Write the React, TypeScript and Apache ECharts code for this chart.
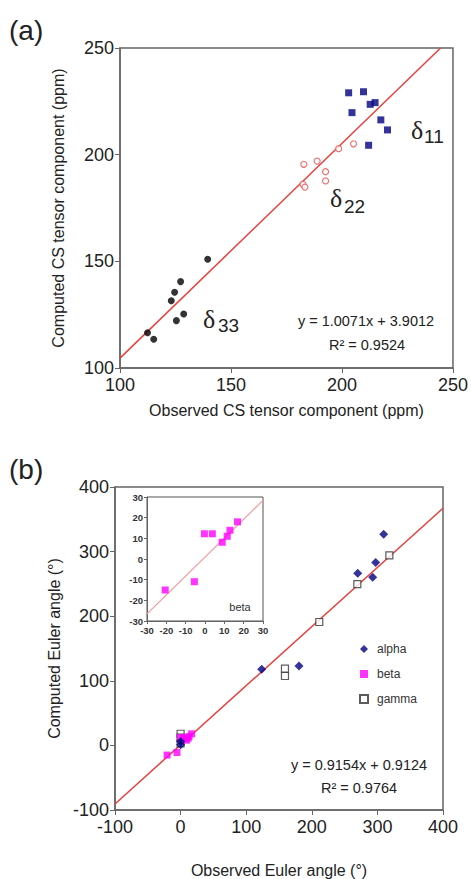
import React, { useEffect, useRef } from "react";
import * as echarts from "echarts";

// Panel (a): CS tensor components (ppm)
const d11X = [203, 209.7, 204.5, 212.7, 214.9, 217.5, 220.5, 212];
const d11Y = [229, 229.5, 219.7, 223.6, 224.4, 216.3, 211.6, 204.4];
const d22X = [182.8, 188.8, 192.6, 192.6, 198.5, 205.2, 182.4, 183.3];
const d22Y = [195.5, 197, 192, 187.7, 202.8, 205.1, 186.1, 184.8];
const d33X = [112.4, 115.2, 123.1, 124.6, 127.3, 125.4, 128.7, 139.5];
const d33Y = [116.5, 113.5, 131.5, 135.5, 140.5, 122.2, 125.3, 151];
const fitA = { slope: 1.0071, intercept: 3.9012, x0: 100, x1: 244.4 };

// Panel (b): Euler angles (degrees)
const alphaX = [309.6, 297.4, 270, 292.8, 123.6, 180.5, 0, 0];
const alphaY = [326.8, 283, 266.4, 260.2, 117.8, 122.9, 1, 6];
const betaX = [-20.6, -5.5, -0.3, 3.8, 8.9, 11.5, 12.9, 16.8];
const betaY = [-15, -11, 12.2, 12.2, 8.1, 11, 13.9, 18];
const gammaX = [318.2, 269.4, 211.4, 159.1, 159.1, 0, 0, 0];
const gammaY = [294.3, 249.8, 191, 118.9, 107.4, 18, 12, 3];
const fitB = { slope: 0.9154, intercept: 0.9124, x0: -100, x1: 400 };
const fitInset = { slope: 0.9154, intercept: 0.9124, x0: -30, x1: 30 };

const zip = (xs: number[], ys: number[]) => xs.map((x, i) => [x, ys[i]]);
const fitLine = (f: { slope: number; intercept: number; x0: number; x1: number }) => [
  [f.x0, f.slope * f.x0 + f.intercept],
  [f.x1, f.slope * f.x1 + f.intercept],
];

const FONT = "Liberation Sans, Arial, sans-serif";
const SERIF = "Liberation Serif, Times New Roman, serif";
const AXIS_COLOR = "#666";
const LINE_RED = "#e8413c";

function axis(grid: number, min: number, max: number, interval: number, name: string, nameGap: number, isY: boolean, small = false) {
  return {
    type: "value",
    gridIndex: grid,
    min,
    max,
    interval,
    name,
    nameLocation: "middle",
    nameGap,
    nameTextStyle: { fontSize: 16, color: "#222", fontFamily: FONT },
    axisLine: { show: true, onZero: false, lineStyle: { color: AXIS_COLOR, width: small ? 1 : 1.5 } },
    axisTick: { show: true, inside: false, length: small ? 3 : 5, lineStyle: { color: AXIS_COLOR } },
    axisLabel: {
      fontSize: small ? 9.5 : 18,
      fontWeight: small ? "bold" : "normal",
      color: small ? "#333" : "#222",
      fontFamily: FONT,
      margin: small ? 4 : (isY ? 6 : 8),
    },
    splitLine: { show: false },
    axisPointer: { show: false },
  };
}

export default function App() {
  const ref = useRef<HTMLDivElement>(null);
  useEffect(() => {
    if (!ref.current) return;
    const chart = echarts.init(ref.current, undefined, { renderer: "svg" });
    const subText = (x: number, y: number, main: string, sub: string, dx: number, dy: number) => [
      {
        type: "text",
        x,
        y,
        style: { text: main, fontSize: 26, fontFamily: SERIF, fill: "#222", textAlign: "left", textVerticalAlign: "middle" },
      },
      {
        type: "text",
        x: x + dx,
        y: y + dy,
        style: { text: sub, fontSize: 19, fontFamily: FONT, fill: "#222", textAlign: "left", textVerticalAlign: "middle" },
      },
    ];
    const centerText = (x: number, y: number, text: string, size: number) => ({
      type: "text",
      x,
      y,
      style: { text, fontSize: size, fontFamily: FONT, fill: "#222", textAlign: "center", textVerticalAlign: "middle" },
    });
    const option: any = {
      animation: false,
      backgroundColor: "#fff",
      grid: [
        { left: 120, top: 48, width: 335, height: 320, show: true, borderColor: AXIS_COLOR, borderWidth: 1.5, backgroundColor: "#fff" },
        { left: 115, top: 487, width: 328, height: 323, show: true, borderColor: AXIS_COLOR, borderWidth: 1.5, backgroundColor: "#fff" },
        { left: 147, top: 497, width: 116, height: 124, show: true, borderColor: "#555", borderWidth: 1, backgroundColor: "#fff", z: 3 },
      ],
      xAxis: [
        axis(0, 100, 250, 50, "Observed CS tensor component (ppm)", 34, false),
        axis(1, -100, 400, 100, "Observed Euler angle (°)", 52, false),
        { ...axis(2, -30, 30, 10, "", 0, false, true), z: 4 },
      ],
      yAxis: [
        axis(0, 100, 250, 50, "Computed CS tensor component (ppm)", 54, true),
        axis(1, -100, 400, 100, "Computed Euler angle (°)", 52, true),
        { ...axis(2, -30, 30, 10, "", 0, true, true), z: 4 },
      ],
      legend: {
        data: ["alpha", "beta", "gamma"],
        orient: "vertical",
        left: 354,
        top: 638,
        itemWidth: 8,
        itemHeight: 8,
        itemGap: 13,
        textStyle: { fontSize: 12, color: "#333", fontFamily: FONT, padding: [0, 0, 0, 4] },
      },
      series: [
        {
          type: "line",
          data: fitLine(fitA),
          xAxisIndex: 0,
          yAxisIndex: 0,
          symbol: "none",
          lineStyle: { color: LINE_RED, width: 1.5 },
          z: 1,
        },
        {
          name: "δ11",
          type: "scatter",
          data: zip(d11X, d11Y),
          xAxisIndex: 0,
          yAxisIndex: 0,
          symbol: "rect",
          symbolSize: 7,
          itemStyle: { color: "#000080" },
        },
        {
          name: "δ22",
          type: "scatter",
          data: zip(d22X, d22Y),
          xAxisIndex: 0,
          yAxisIndex: 0,
          symbol: "circle",
          symbolSize: 6,
          itemStyle: { color: "#fff", borderColor: "#e85050", borderWidth: 1.2 },
        },
        {
          name: "δ33",
          type: "scatter",
          data: zip(d33X, d33Y),
          xAxisIndex: 0,
          yAxisIndex: 0,
          symbol: "circle",
          symbolSize: 7,
          itemStyle: { color: "#000" },
        },
        {
          type: "line",
          data: fitLine(fitB),
          xAxisIndex: 1,
          yAxisIndex: 1,
          symbol: "none",
          lineStyle: { color: LINE_RED, width: 1.5 },
          z: 1,
        },
        {
          name: "gamma",
          type: "scatter",
          data: zip(gammaX, gammaY),
          xAxisIndex: 1,
          yAxisIndex: 1,
          symbol: "rect",
          symbolSize: 7,
          itemStyle: { color: "#fff", borderColor: "#333", borderWidth: 1.2 },
        },
        {
          name: "beta",
          type: "scatter",
          data: zip(betaX, betaY),
          xAxisIndex: 1,
          yAxisIndex: 1,
          symbol: "rect",
          symbolSize: 7,
          itemStyle: { color: "#ff00ff" },
        },
        {
          name: "alpha",
          type: "scatter",
          data: zip(alphaX, alphaY),
          xAxisIndex: 1,
          yAxisIndex: 1,
          symbol: "diamond",
          symbolSize: 9,
          itemStyle: { color: "#000080" },
        },
        {
          name: "inset fit",
          type: "line",
          data: fitLine(fitInset),
          xAxisIndex: 2,
          yAxisIndex: 2,
          symbol: "none",
          color: "#f29a9a",
          lineStyle: { color: "#f29a9a", width: 1.2 },
          z: 4,
        },
        {
          name: "beta inset",
          type: "scatter",
          data: zip(betaX, betaY),
          xAxisIndex: 2,
          yAxisIndex: 2,
          symbol: "rect",
          symbolSize: 7,
          itemStyle: { color: "#ff00ff" },
          z: 5,
        },
      ],
      graphic: [
        { type: "text", x: 9, y: 30, style: { text: "(a)", fontSize: 28, fontFamily: FONT, fill: "#222", textAlign: "left", textVerticalAlign: "middle" } },
        { type: "text", x: 9, y: 469, style: { text: "(b)", fontSize: 28, fontFamily: FONT, fill: "#222", textAlign: "left", textVerticalAlign: "middle" } },
        ...subText(411, 130, "δ", "11", 13, 6),
        ...subText(330, 198, "δ", "22", 14, 8),
        ...subText(203, 319, "δ", "33", 15, 6),
        centerText(366, 321, "y = 1.0071x + 3.9012", 14.5),
        centerText(367, 345, "R² = 0.9524", 14.5),
        centerText(359, 765, "y = 0.9154x + 0.9124", 14.5),
        centerText(359, 788, "R² = 0.9764", 14.5),
        { type: "text", x: 240, y: 607, z: 10, style: { text: "beta", fontSize: 11, fontFamily: FONT, fill: "#333", textAlign: "center", textVerticalAlign: "middle" } },
      ],
    };
    chart.setOption(option);
    return () => chart.dispose();
  }, []);
  return <div ref={ref} style={{ position: "absolute", left: 0, top: 0, width: 471, height: 879 }} />;
}
